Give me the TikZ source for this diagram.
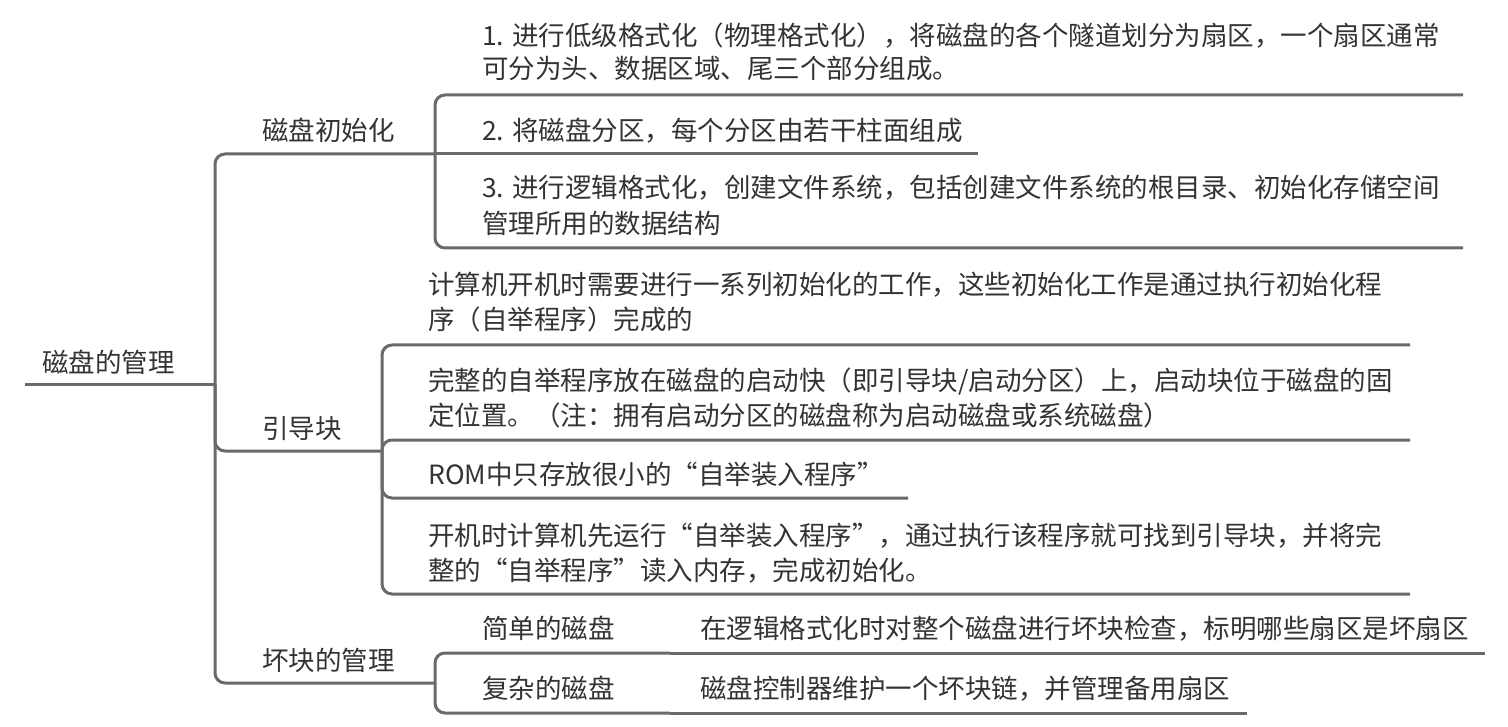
\documentclass[tikz,border=0pt]{standalone}
\usepackage{fontspec}
\setmainfont{Noto Sans CJK SC}
\definecolor{linec}{RGB}{106,106,106}
\definecolor{textc}{RGB}{51,51,51}
\tikzset{
  ln/.style={draw=linec, line width=3pt, rounded corners=10pt},
  txt/.style={anchor=base west, inner sep=0pt, align=left, text=textc, font=\fontsize{26.5}{35}\selectfont},
}
\begin{document}
\begin{tikzpicture}[x=1pt,y=-1pt]
\useasboundingbox (0,0) rectangle (1508,727);
% text nodes (multi-line nodes are placed at the baseline of their last line)
\node[txt] (root) at (42,373) {磁盘的管理};
\node[txt] (init) at (262,141) {磁盘初始化};
\node[txt] (boot) at (262,438) {引导块};
\node[txt] (bad) at (262,670) {坏块的管理};
\node[txt,font=\fontsize{26.5}{33}\selectfont] (i1) at (482,79) {1. 进行低级格式化（物理格式化），将磁盘的各个隧道划分为扇区，一个扇区通常\\可分为头、数据区域、尾三个部分组成。};
\node[txt] (i2) at (482,141) {2. 将磁盘分区，每个分区由若干柱面组成};
\node[txt,font=\fontsize{26.5}{36}\selectfont] (i3) at (482,234) {3. 进行逻辑格式化，创建文件系统，包括创建文件系统的根目录、初始化存储空间\\管理所用的数据结构};
\node[txt] (ba) at (428,330) {计算机开机时需要进行一系列初始化的工作，这些初始化工作是通过执行初始化程\\序（自举程序）完成的};
\node[txt] (bb) at (428,425) {完整的自举程序放在磁盘的启动快（即引导块/启动分区）上，启动块位于磁盘的固\\定位置。（注：拥有启动分区的磁盘称为启动磁盘或系统磁盘）};
\node[txt] (bc) at (428,484) {ROM中只存放很小的“自举装入程序”};
\node[txt] (bd) at (428,580) {开机时计算机先运行“自举装入程序”，通过执行该程序就可找到引导块，并将完\\整的“自举程序”读入内存，完成初始化。};
\node[txt] (simple) at (482,638) {简单的磁盘};
\node[txt] (simplec) at (700,638) {在逻辑格式化时对整个磁盘进行坏块检查，标明哪些扇区是坏扇区};
\node[txt] (complex) at (482,698) {复杂的磁盘};
\node[txt] (complexc) at (700,698) {磁盘控制器维护一个坏块链，并管理备用扇区};
% underline end points
\coordinate (rootL) at (25,385);
\coordinate (rootR) at (215,385);
\coordinate (initR) at (435,154);
\coordinate (bootR) at (382,451);
\coordinate (badR) at (435,683);
\coordinate (i1R) at (1463,95);
\coordinate (i2R) at (978,154);
\coordinate (i3R) at (1463,248);
\coordinate (baR) at (1410,345);
\coordinate (bbR) at (1410,440);
\coordinate (bcR) at (908,498);
\coordinate (bdR) at (1410,594);
\coordinate (simpleR) at (670,653);
\coordinate (simplecR) at (1485,653);
\coordinate (complexR) at (670,713);
\coordinate (complexcR) at (1247,713);
% connectors
\draw[ln] (rootL) -- (rootR);
\draw[ln] (rootR) |- (initR);
\draw[ln] (rootR) |- (bootR);
\draw[ln] (rootR) |- (badR);
\draw[ln] (initR) |- (i1R);
\draw[ln] (initR) -- (i2R);
\draw[ln] (initR) |- (i3R);
\draw[ln] (bootR) |- (baR);
\draw[ln] (bootR) |- (bbR);
\draw[ln] (bootR) |- (bcR);
\draw[ln] (bootR) |- (bdR);
\draw[ln] (badR) |- (simpleR);
\draw[ln] (simpleR) -- (simplecR);
\draw[ln] (badR) |- (complexR);
\draw[ln] (complexR) -- (complexcR);
\end{tikzpicture}
\end{document}
